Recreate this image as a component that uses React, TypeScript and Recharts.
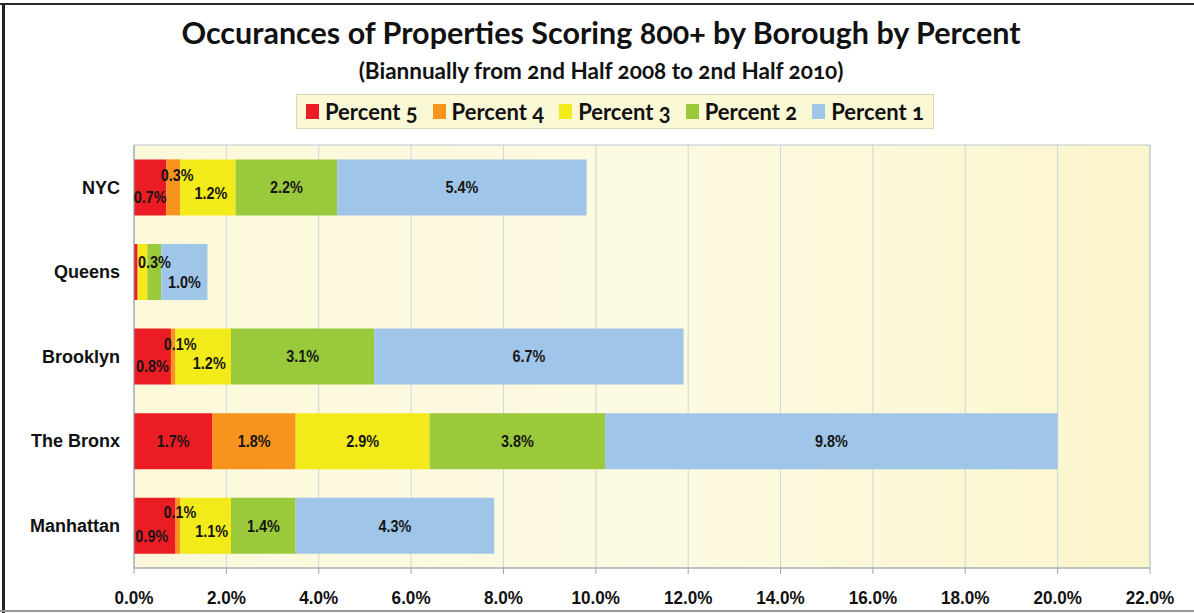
import { BarChart, Bar, XAxis, YAxis, CartesianGrid, Legend, LabelList, ReferenceArea } from "recharts";

const boroughs = ["NYC", "Queens", "Brooklyn", "The Bronx", "Manhattan"];
const percent5 = [0.7, 0.07, 0.8, 1.7, 0.9];
const percent4 = [0.3, 0.02, 0.1, 1.8, 0.1];
const percent3 = [1.2, 0.2, 1.2, 2.9, 1.1];
const percent2 = [2.2, 0.3, 3.1, 3.8, 1.4];
const percent1 = [5.4, 1.0, 6.7, 9.8, 4.3];
const xTicks = [0, 2, 4, 6, 8, 10, 12, 14, 16, 18, 20, 22];

const data = boroughs.map((name, i) => ({
    name,
    p5: percent5[i],
    p4: percent4[i],
    p3: percent3[i],
    p2: percent2[i],
    p1: percent1[i],
}));

const series = [
    { key: "p5", label: "Percent 5", color: "#ec1c24" },
    { key: "p4", label: "Percent 4", color: "#f7941d" },
    { key: "p3", label: "Percent 3", color: "#f3ea1a" },
    { key: "p2", label: "Percent 2", color: "#9bc93c" },
    { key: "p1", label: "Percent 1", color: "#9fc6e8" },
];

// small segments get their labels nudged like the original; Queens hides the tiny ones
const nudge: Record<string, [number, number]> = {
    "NYC|p5": [0, 10], "NYC|p4": [4, -12], "NYC|p3": [3, 6],
    "Queens|p2": [0, -10], "Queens|p1": [0, 10],
    "Brooklyn|p5": [0, 10], "Brooklyn|p4": [7, -12], "Brooklyn|p3": [6, 7],
    "Manhattan|p5": [-3, 10], "Manhattan|p4": [2, -14], "Manhattan|p3": [6, 5],
};
const hidden = ["Queens|p5", "Queens|p4", "Queens|p3"];

const arial = "Arial, 'Liberation Sans', sans-serif";
const calibri = "Lato, 'Open Sans', sans-serif";

const makeLabel = (key: string) => (props: any) => {
    const { x, y, width, height, value, index } = props;
    const id = `${boroughs[index]}|${key}`;
    if (hidden.includes(id)) return null;
    const [dx, dy] = nudge[id] || [0, 0];
    const cx = x + width / 2 + dx;
    const cy = y + height / 2 + dy;
    return (
        <text
            transform={`translate(${cx},${cy}) scale(0.9,1)`}
            textAnchor="middle"
            dominantBaseline="central"
            fontFamily={arial}
            fontWeight="bold"
            fontSize={16}
            fill="#151515"
        >
            {`${Number(value).toFixed(1)}%`}
        </text>
    );
};

const XTick = (props: any) => {
    const { x, y, payload } = props;
    return (
        <text
            transform={`translate(${x},${y}) scale(0.9,1)`}
            textAnchor="middle"
            dy="0.71em"
            fontFamily={arial}
            fontWeight="bold"
            fontSize={19}
            fill="#111"
        >
            {`${payload.value.toFixed(1)}%`}
        </text>
    );
};

const LegendBox = () => (
    <div
        style={{
            display: "flex",
            alignItems: "center",
            gap: 15,
            padding: "3px 9px",
            background: "#fbf8d6",
            border: "1px solid #dcd8b4",
            fontFamily: calibri,
            fontWeight: 700,
            fontSize: 22,
            color: "#111",
            fontVariantNumeric: "oldstyle-nums",
        }}
    >
        {series.map((s) => (
            <span key={s.key} style={{ display: "flex", alignItems: "center" }}>
                <span style={{ width: 13, height: 15, background: s.color, marginRight: 6, display: "inline-block" }} />
                {s.label}
            </span>
        ))}
    </div>
);

export default function App() {
    return (
        <div style={{ position: "absolute", left: 0, top: 0, width: 1194, height: 613, background: "#fff", overflow: "hidden" }}>
            <div style={{ position: "absolute", left: 0, top: 3, width: 1194, height: 2, background: "#2a2a2a" }} />
            <div style={{ position: "absolute", left: 2, top: 3, width: 3, height: 610, background: "#222" }} />
            <div style={{ position: "absolute", left: 0, top: 610, width: 1194, height: 2, background: "#9a9a9a" }} />
            <div
                style={{
                    position: "absolute", left: 0, top: 14, width: 1202, textAlign: "center",
                    fontFamily: calibri, fontWeight: 700, fontSize: 30.5, color: "#111",
                    fontVariantNumeric: "oldstyle-nums",
                }}
            >
                Occurances of Properties Scoring 800+ by Borough by Percent
            </div>
            <div
                style={{
                    position: "absolute", left: 0, top: 57, width: 1202, textAlign: "center",
                    fontFamily: calibri, fontWeight: 700, fontSize: 22.5, color: "#111",
                    fontVariantNumeric: "oldstyle-nums",
                }}
            >
                (Biannually from 2nd Half 2008 to 2nd Half 2010)
            </div>
            <BarChart
                width={1194}
                height={613}
                data={data}
                layout="vertical"
                barCategoryGap="17%"
                margin={{ top: 145, right: 44, bottom: 15, left: 0 }}
            >
                <defs>
                    <linearGradient id="plotBg" x1="0" y1="0" x2="1" y2="0">
                        <stop offset="0%" stopColor="#fcf8d9" />
                        <stop offset="50%" stopColor="#fdfae3" />
                        <stop offset="100%" stopColor="#fbf5cc" />
                    </linearGradient>
                </defs>
                <CartesianGrid horizontal={false} stroke="#cbd6dc" fill="url(#plotBg)" fillOpacity={1} />
                <XAxis
                    type="number"
                    domain={[0, 22]}
                    ticks={xTicks}
                    height={30}
                    stroke="#9aa6b0"
                    tickSize={6}
                    tickMargin={16}
                    tick={<XTick />}
                />
                <YAxis
                    type="category"
                    dataKey="name"
                    width={134}
                    stroke="#9aa6b0"
                    tickLine={false}
                    tickMargin={8}
                    tick={{ fill: "#111", fontFamily: arial, fontWeight: "bold", fontSize: 18 }}
                />
                <ReferenceArea x1={0} x2={22} fill="none" stroke="#bcc6ce" strokeWidth={1} ifOverflow="visible" />
                {series.map((s) => (
                    <Bar key={s.key} dataKey={s.key} name={s.label} stackId="a" fill={s.color} isAnimationActive={false}>
                        <LabelList dataKey={s.key} content={makeLabel(s.key)} />
                    </Bar>
                ))}
                <Legend
                    verticalAlign="middle"
                    content={() => <LegendBox />}
                    wrapperStyle={{ top: 94, left: 296, width: "auto" }}
                />
            </BarChart>
        </div>
    );
}
